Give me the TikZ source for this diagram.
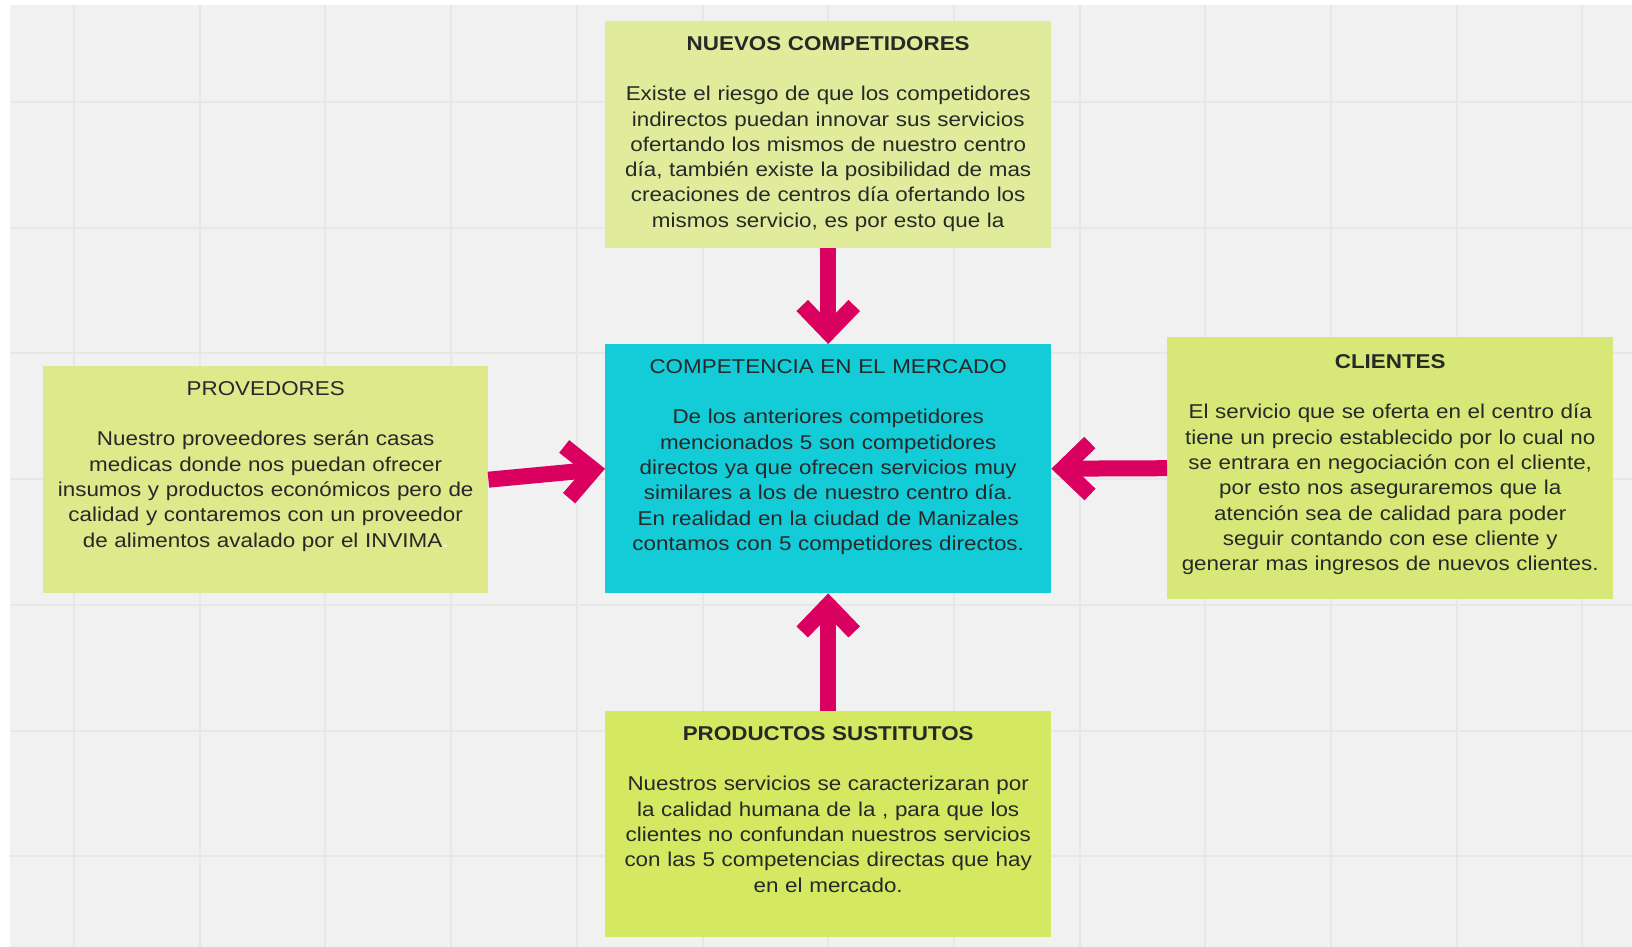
\documentclass[tikz,border=0pt]{standalone}
\usepackage{fontspec}
\setmainfont{Liberation Sans}[FakeStretch=1.12]
\usepackage{tikz}
\usetikzlibrary{arrows.meta, positioning, calc}
\usepackage{xcolor}
\tikzset{>=Latex}

\definecolor{fondo}{RGB}{241,241,241}
\definecolor{rejilla}{RGB}{231,231,231}
\definecolor{verdeA}{RGB}{224,236,155}
\definecolor{verdeB}{RGB}{221,233,139}
\definecolor{verdeC}{RGB}{216,232,120}
\definecolor{verdeD}{RGB}{212,232,98}
\definecolor{cian}{RGB}{19,204,216}
\definecolor{flecha}{RGB}{217,0,95}
\definecolor{texto}{RGB}{40,40,40}

\tikzset{
  caja/.style={rectangle, inner sep=0pt, anchor=north west, align=center,
    text width=446pt, text height=29pt, text=texto,
    font=\fontsize{20}{25.3}\selectfont},
  pfeil/.style={draw=flecha, line width=16pt,
    -{Straight Barb[length=27pt, width=52pt]}}
}

\begin{document}
\begin{tikzpicture}[x=1pt, y=-1pt]

            \useasboundingbox (0,0) rectangle (1632,947);

            % Hintergrund mit Raster
            \fill[fondo] (10,5) rectangle (1632,947);
            \foreach \x in {0,...,12}
              \draw[rejilla, line width=2pt] ({74+125.7*\x},5) -- ({74+125.7*\x},947);
            \foreach \y in {0,...,6}
              \draw[rejilla, line width=2pt] (10,{102+125.7*\y}) -- (1632,{102+125.7*\y});

            % Kasten oben
            \node[caja, fill=verdeA, text depth=198pt] (nuevos) at (605,21)
              {\textbf{NUEVOS COMPETIDORES}\\[25.3pt]
               Existe el riesgo de que los competidores\\
               indirectos puedan innovar sus servicios\\
               ofertando los mismos de nuestro centro\\
               día, también existe la posibilidad de mas\\
               creaciones de centros día ofertando los\\
               mismos servicio, es por esto que la};

            % Kasten Mitte
            \node[caja, fill=cian, text depth=220pt] (mercado) at (605,344)
              {COMPETENCIA EN EL MERCADO\\[25.3pt]
               De los anteriores competidores\\
               mencionados 5 son competidores\\
               directos ya que ofrecen servicios muy\\
               similares a los de nuestro centro día.\\
               En realidad en la ciudad de Manizales\\
               contamos con 5 competidores directos.};

            % Kasten links
            \node[caja, fill=verdeB, text width=445pt, text depth=198pt] (provedores) at (43,366)
              {PROVEDORES\\[25.3pt]
               Nuestro proveedores serán casas\\
               medicas donde nos puedan ofrecer\\
               insumos y productos económicos pero de\\
               calidad y contaremos con un proveedor\\
               de alimentos avalado por el INVIMA{\color{white}.}};

            % Kasten rechts
            \node[caja, fill=verdeC, text height=31pt, text depth=231pt] (clientes) at (1167,337)
              {\textbf{CLIENTES}\\[25.3pt]
               El servicio que se oferta en el centro día\\
               tiene un precio establecido por lo cual no\\
               se entrara en negociación con el cliente,\\
               por esto nos aseguraremos que la\\
               atención sea de calidad para poder\\
               seguir contando con ese cliente y\\
               generar mas ingresos de nuevos clientes.};

            % Kasten unten
            \node[caja, fill=verdeD, text depth=197pt] (sustitutos) at (605,711)
              {\textbf{PRODUCTOS SUSTITUTOS}\\[25.3pt]
               Nuestros servicios se caracterizaran por\\
               la calidad humana de la , para que los\\
               clientes no confundan nuestros servicios\\
               con las 5 competencias directas que hay\\
               en el mercado.};

            % Pfeile zur Mitte
            \draw[pfeil] (nuevos.south) -- (mercado.north);
            \draw[pfeil] (provedores.east) -- (mercado.west);
            \draw[pfeil] (clientes.west) -- (mercado.east);
            \draw[pfeil] (sustitutos.north) -- (mercado.south);

\end{tikzpicture}
\end{document}
